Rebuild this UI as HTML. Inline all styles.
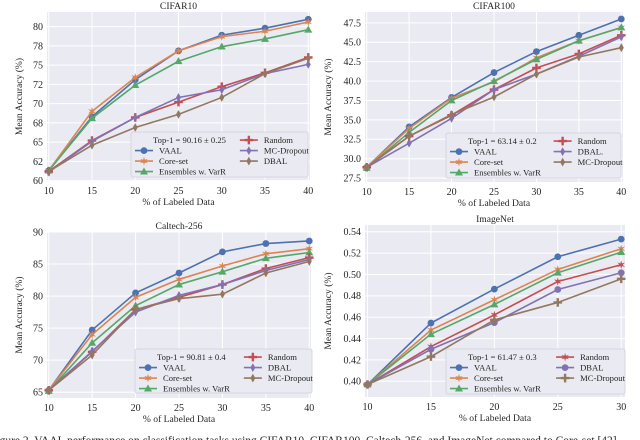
<!DOCTYPE html>
<html><head><meta charset="utf-8">
<style>
html,body{margin:0;padding:0;background:#fff;width:640px;height:440px;overflow:hidden}
svg{display:block}
text{font-family:"Liberation Serif",serif;fill:#262626}
</style></head>
<body>
<svg id="fig" width="640" height="440"></svg>
<script>
const NS="http://www.w3.org/2000/svg";
// CIFAR10
const c10X=[10,15,20,25,30,35,40];
const c10VAAL=[61.3,68.3,73.1,76.85,78.9,79.8,80.95];
const c10Core=[61.3,69.0,73.4,76.85,78.7,79.4,80.6];
const c10Ens=[61.3,68.1,72.4,75.5,77.4,78.4,79.6];
const c10Rand=[61.2,65.2,68.2,70.2,72.2,74.0,76.0];
const c10MC=[61.1,65.1,68.2,70.8,71.8,73.9,75.1];
const c10DBAL=[61.2,64.6,66.9,68.6,70.8,73.9,75.9];
const c10YTicks=[60,62.5,65,67.5,70,72.5,75,77.5,80];
const c10YLabels=["60","62","65","68","70","72","75","78","80"];
// CIFAR100
const c100X=[10,15,20,25,30,35,40];
const c100VAAL=[28.9,34.1,37.9,41.1,43.8,45.9,48.0];
const c100Core=[28.9,33.9,37.8,39.9,43.0,45.2,46.9];
const c100Ens=[28.8,33.4,37.5,40.0,42.8,45.2,46.9];
const c100Rand=[28.9,32.9,35.6,38.9,41.7,43.5,45.9];
const c100DBAL=[28.9,32.0,35.2,38.9,40.9,43.2,45.7];
const c100MC=[28.9,32.9,35.7,37.95,40.9,43.1,44.3];
const c100YTicks=[27.5,30,32.5,35,37.5,40,42.5,45,47.5];
const c100YLabels=["27.5","30.0","32.5","35.0","37.5","40.0","42.5","45.0","47.5"];
// Caltech
const calX=[10,15,20,25,30,35,40];
const calVAAL=[65.3,74.7,80.5,83.6,86.9,88.2,88.6];
const calCore=[65.3,74.0,79.8,82.6,84.7,86.6,87.4];
const calEns=[65.2,72.7,78.5,81.8,83.8,85.9,86.8];
const calRand=[65.3,71.3,77.9,79.8,81.8,84.3,86.0];
const calDBAL=[65.3,71.4,77.5,80.1,81.8,84.0,85.7];
const calMC=[65.3,70.8,77.9,79.6,80.3,83.6,85.4];
const calYTicks=[65,70,75,80,85,90];
const calYLabels=["65","70","75","80","85","90"];
// ImageNet
const inX=[10,15,20,25,30];
const inVAAL=[0.397,0.4545,0.4863,0.5166,0.5331];
const inCore=[0.397,0.4480,0.4763,0.5047,0.5241];
const inEns=[0.397,0.4441,0.4719,0.5016,0.5209];
const inRand=[0.397,0.4325,0.4622,0.4934,0.5091];
const inDBAL=[0.397,0.4300,0.4550,0.4859,0.5016];
const inMC=[0.397,0.4231,0.4575,0.4738,0.4959];
const inYTicks=[0.40,0.42,0.44,0.46,0.48,0.50,0.52,0.54];
const inYLabels=["0.40","0.42","0.44","0.46","0.48","0.50","0.52","0.54"];

const svg=document.getElementById("fig");
function el(tag,attrs,parent){const e=document.createElementNS(NS,tag);for(const k in attrs)e.setAttribute(k,attrs[k]);(parent||svg).appendChild(e);return e;}

function marker(g,type,x,y,c){
  let m;
  if(type==="o"){m=el("circle",{cx:x,cy:y,r:3.4,fill:c},g);}
  else if(type==="^"){m=el("polygon",{points:`${x},${y-4.1} ${x+4},${y+2.9} ${x-4},${y+2.9}`,fill:c},g);}
  else if(type==="*"){let p=[];for(let i=0;i<12;i++){const a=Math.PI*i/6-Math.PI/2;const r=i%2?1.6:4.4;p.push((x+r*Math.cos(a)).toFixed(2)+","+(y+r*Math.sin(a)).toFixed(2));}m=el("polygon",{points:p.join(" "),fill:c},g);}
  else if(type==="P"){m=el("path",{d:`M${x-1.2},${y-4.3}h2.4v3.1h3.1v2.4h-3.1v3.1h-2.4v-3.1h-3.1v-2.4h3.1z`,fill:c},g);}
  else {m=el("polygon",{points:`${x},${y-4.4} ${x+2.5},${y} ${x},${y+4.4} ${x-2.5},${y}`,fill:c},g);}
  
  
}

function panel(opt){
  const g=el("g",{});
  
  
  const {L,R,T,B,xmin,xmax,ymin,ymax}=opt;
  const sx=v=>L+(v-xmin)/(xmax-xmin)*(R-L);
  const sy=v=>B-(v-ymin)/(ymax-ymin)*(B-T);
  const bg=el("rect",{x:L,y:T,width:R-L,height:B-T,fill:"#eaeaf2"},g);
  
  opt.xt.forEach(v=>{el("line",{x1:sx(v),x2:sx(v),y1:T,y2:B,stroke:"#fff","stroke-width":1},g);
    const t=el("text",{x:sx(v),y:B+13,"font-size":"10","text-anchor":"middle"},g);t.textContent=v;
    });
  opt.yt.forEach((v,i)=>{el("line",{x1:L,x2:R,y1:sy(v),y2:sy(v),stroke:"#fff","stroke-width":1},g);
    const t=el("text",{x:L-4,y:sy(v)+3.4,"font-size":"10","text-anchor":"end"},g);t.textContent=opt.yl[i];
    });
  const ti=el("text",{x:(L+R)/2,y:T-3,"font-size":"9.6","text-anchor":"middle"},g);ti.textContent=opt.title;
  
  const xl=el("text",{x:(L+R)/2,y:B+24,"font-size":"9.6","text-anchor":"middle"},g);xl.textContent="% of Labeled Data";
  
  const yc=(T+B)/2, yx=opt.yTitleX;
  const yl=el("text",{x:yx,y:yc,"font-size":"9.6","text-anchor":"middle",transform:`rotate(-90 ${yx} ${yc})`},g);yl.textContent="Mean Accuracy (%)";
  
  opt.series.forEach(s=>{
    const pts=s.v.map((v,i)=>sx(opt.x[i]).toFixed(2)+","+sy(v).toFixed(2)).join(" ");
    const pl=el("polyline",{points:pts,fill:"none",stroke:s.c,"stroke-width":1.6},g);
    
    s.v.forEach((v,i)=>marker(g,s.m,sx(opt.x[i]),sy(v),s.c));
  });
  const lg=opt.leg;
  const lr=el("rect",{x:lg.x,y:lg.y,width:lg.w,height:lg.h,fill:"#eaeaf2",stroke:"#d0d0d8","stroke-width":0.8,rx:2},g);
  
  const tt=el("text",{x:lg.x+22,y:lg.y+11,"font-size":"8.6"},g);tt.textContent=opt.top1;
  
  const col2=lg.x+lg.w*0.615;
  const rows=[[lg.x+4,lg.y+21.5],[lg.x+4,lg.y+32],[lg.x+4,lg.y+42.5],[col2,lg.y+11],[col2,lg.y+21.5],[col2,lg.y+32]];
  opt.series.forEach((s,i)=>{
    const [lx,ly]=rows[i];
    el("line",{x1:lx,x2:lx+18,y1:ly-2.9,y2:ly-2.9,stroke:s.c,"stroke-width":1.6},g);
    marker(g,s.m,lx+9,ly-2.9,s.c);
    const t=el("text",{x:lx+24,y:ly,"font-size":"8.6"},g);t.textContent=s.n;
    
  });
}
const B6="#4c72b0",O6="#dd8452",G6="#55a868",R6="#c44e52",P6="#8172b3",Br6="#937860";
panel({name:"cifar10-chart",title:"CIFAR10",L:47,R:310,T:12,B:181,xmin:9.8,xmax:40.2,ymin:59.95,ymax:81.9,
  x:c10X,xt:c10X,yt:c10YTicks,yl:c10YLabels,yTitleX:22,top1:"Top-1 = 90.16 ± 0.25",
  leg:{x:131,y:132,w:177,h:45},
  series:[{n:"VAAL",v:c10VAAL,c:B6,m:"o"},{n:"Core-set",v:c10Core,c:O6,m:"*"},{n:"Ensembles w. VarR",v:c10Ens,c:G6,m:"^"},
    {n:"Random",v:c10Rand,c:R6,m:"P"},{n:"MC-Dropout",v:c10MC,c:P6,m:"d"},{n:"DBAL",v:c10DBAL,c:Br6,m:"d"}]});
panel({name:"cifar100-chart",title:"CIFAR100",L:365,R:623,T:12,B:182,xmin:9.8,xmax:40.2,ymin:27.0,ymax:48.9,
  x:c100X,xt:c100X,yt:c100YTicks,yl:c100YLabels,yTitleX:331,top1:"Top-1 = 63.14 ± 0.2",
  leg:{x:446,y:133,w:175,h:45},
  series:[{n:"VAAL",v:c100VAAL,c:B6,m:"o"},{n:"Core-set",v:c100Core,c:O6,m:"*"},{n:"Ensembles w. VarR",v:c100Ens,c:G6,m:"^"},
    {n:"Random",v:c100Rand,c:R6,m:"P"},{n:"DBAL.",v:c100DBAL,c:P6,m:"d"},{n:"MC-Dropout",v:c100MC,c:Br6,m:"d"}]});
panel({name:"caltech256-chart",title:"Caltech-256",L:47,R:311,T:232,B:398,xmin:9.8,xmax:40.2,ymin:64.1,ymax:90,
  x:calX,xt:calX,yt:calYTicks,yl:calYLabels,yTitleX:22,top1:"Top-1 = 90.81 ± 0.4",
  leg:{x:135,y:349,w:177,h:44},
  series:[{n:"VAAL",v:calVAAL,c:B6,m:"o"},{n:"Core-set",v:calCore,c:O6,m:"*"},{n:"Ensembles w. VarR",v:calEns,c:G6,m:"^"},
    {n:"Random",v:calRand,c:R6,m:"P"},{n:"DBAL",v:calDBAL,c:P6,m:"d"},{n:"MC-Dropout",v:calMC,c:Br6,m:"d"}]});
panel({name:"imagenet-chart",title:"ImageNet",L:365,R:625,T:225,B:397,xmin:9.8,xmax:30.3,ymin:0.3853,ymax:0.5463,
  x:inX,xt:inX,yt:inYTicks,yl:inYLabels,yTitleX:331,top1:"Top-1  = 61.47 ± 0.3",
  leg:{x:446,y:349,w:179,h:45},
  series:[{n:"VAAL",v:inVAAL,c:B6,m:"o"},{n:"Core-set",v:inCore,c:O6,m:"*"},{n:"Ensembles w. VarR",v:inEns,c:G6,m:"^"},
    {n:"Random",v:inRand,c:R6,m:"*"},{n:"DBAL",v:inDBAL,c:P6,m:"o"},{n:"MC-Dropout",v:inMC,c:Br6,m:"P"}]});
const cap=el("text",{x:-10,y:444,"font-size":"11.5"});
cap.textContent="Figure 2. VAAL performance on classification tasks using CIFAR10, CIFAR100, Caltech-256, and ImageNet compared to Core-set [42]";


</script>
</body></html>
